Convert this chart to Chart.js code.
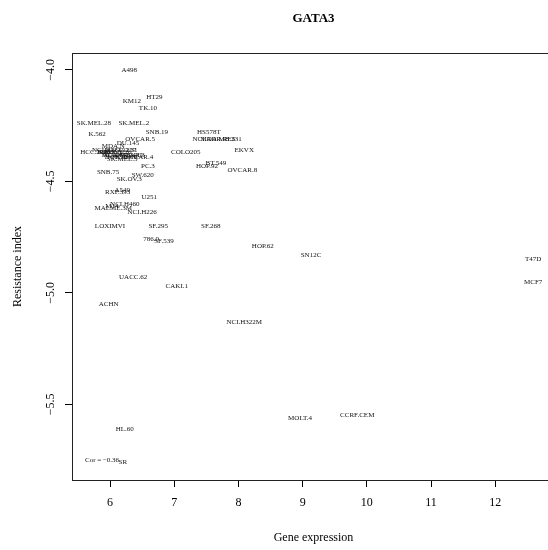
<!DOCTYPE html>
<html>
<head>
<meta charset="utf-8">
<script src="https://cdn.jsdelivr.net/npm/chart.js@4.4.1/dist/chart.umd.min.js"></script>
<style>
  html, body { margin: 0; padding: 0; background: #fff; overflow: hidden; }
  canvas { display: block; }
</style>
</head>
<body>
<canvas id="gataChart" width="560" height="550"></canvas>
<script>
// cell lines, GATA3 expression (x) and resistance index (y)
const cellLines = [
  'A498', 'HT29', 'KM12', 'TK.10', 'SK.MEL.28', 'SK.MEL.2', 'K.562', 'SNB.19',
  'HS578T', 'NCI.ADR.RES', 'MDA.MB.231', 'EKVX', 'COLO205', 'HCC.2998',
  'NCI.H23', 'IGROV1', 'RPMI.8226', 'UACC.257', 'NCI.H522', 'UO.31', 'OVCAR.3',
  'HCT.116', 'HCT.15', 'MDA.MB.435', 'MDA.N', 'DU.145', 'OVCAR.5', 'OVCAR.4',
  'SK.MEL.5', 'BT.549', 'HOP.92', 'OVCAR.8', 'PC.3', 'SNB.75', 'SW.620', 'SK.OV.3',
  'RXF.393', 'A549', 'U251', 'NCI.H460', 'M14', 'MALME.3M', 'NCI.H226', 'LOXIMVI',
  'SF.295', 'SF.268', '786.0', 'SF.539', 'HOP.62', 'SN12C', 'T47D', 'MCF7',
  'UACC.62', 'CAKI.1', 'ACHN', 'NCI.H322M', 'MOLT.4', 'CCRF.CEM', 'HL.60', 'SR'
];
const expression = [
  6.30, 6.69, 6.34, 6.59, 5.75, 6.37, 5.80, 6.73,
  7.54, 7.62, 7.73, 8.09, 7.18, 5.77,
  5.92, 6.00, 6.08, 6.16, 6.12, 6.28, 6.31,
  6.23, 6.09, 6.19, 6.05, 6.28, 6.47, 6.44,
  6.19, 7.65, 7.51, 8.06, 6.59, 5.97, 6.51, 6.30,
  6.12, 6.19, 6.61, 6.23, 6.03, 6.05, 6.50, 6.00,
  6.75, 7.57, 6.64, 6.84, 8.38, 9.13, 12.59, 12.59,
  6.36, 7.04, 5.98, 8.09, 8.96, 9.85, 6.23, 6.20
];
const resistance = [
  -4.00, -4.12, -4.14, -4.17, -4.24, -4.24, -4.29, -4.28,
  -4.28, -4.31, -4.31, -4.36, -4.37, -4.37,
  -4.36, -4.37, -4.37, -4.36, -4.38, -4.36, -4.38,
  -4.39, -4.39, -4.38, -4.34, -4.33, -4.31, -4.39,
  -4.40, -4.42, -4.43, -4.45, -4.43, -4.46, -4.47, -4.49,
  -4.55, -4.54, -4.57, -4.60, -4.61, -4.62, -4.64, -4.70,
  -4.70, -4.70, -4.76, -4.77, -4.79, -4.83, -4.85, -4.95,
  -4.93, -4.97, -5.05, -5.13, -5.56, -5.55, -5.61, -5.76
];
const xTicks = [6, 7, 8, 9, 10, 11, 12];
const yTicks = [-4.0, -4.5, -5.0, -5.5];
const corLabel = 'Cor = \u22120.36';
const corAt = { x: 5.61, y: -5.75 };

const serif = '"Liberation Serif", "Times New Roman", serif';
const fmtY = v => (v < 0 ? '\u2212' : '') + Math.abs(v).toFixed(1);

const points = expression.map((x, i) => ({ x: x, y: resistance[i] }));

// white page, R-style box, rotated y labels, titles and the point names
const rPlot = {
  id: 'rPlot',
  beforeDraw(chart) {
    const ctx = chart.ctx;
    ctx.save();
    ctx.fillStyle = '#fff';
    ctx.fillRect(0, 0, chart.width, chart.height);
    ctx.restore();
  },
  afterDatasetsDraw(chart) {
    const ctx = chart.ctx;
    const a = chart.chartArea;
    const xs = chart.scales.x, ys = chart.scales.y;
    ctx.save();

    ctx.strokeStyle = '#222';
    ctx.lineWidth = 1;
    ctx.strokeRect(Math.round(a.left) + 0.5, Math.round(a.top) + 0.5,
      Math.round(a.right - a.left), Math.round(a.bottom - a.top));

    ctx.fillStyle = '#111';
    ctx.font = '7px ' + serif;
    ctx.textAlign = 'center';
    ctx.textBaseline = 'middle';
    chart.getDatasetMeta(0).data.forEach((pt, i) => {
      ctx.fillText(cellLines[i], pt.x, pt.y);
    });

    ctx.textAlign = 'left';
    ctx.fillText(corLabel, xs.getPixelForValue(corAt.x), ys.getPixelForValue(corAt.y));

    ctx.fillStyle = '#000';
    ctx.font = '12px ' + serif;
    yTicks.forEach(v => {
      ctx.save();
      ctx.translate(51, ys.getPixelForValue(v));
      ctx.rotate(-Math.PI / 2);
      ctx.textAlign = 'center';
      ctx.fillText(fmtY(v), 0, 0);
      ctx.restore();
    });

    const midX = (a.left + a.right) / 2;
    ctx.textAlign = 'center';
    ctx.fillText('Gene expression', midX, 538);

    ctx.save();
    ctx.translate(18, (a.top + a.bottom) / 2);
    ctx.rotate(-Math.PI / 2);
    ctx.fillText('Resistance index', 0, 0);
    ctx.restore();

    ctx.font = 'bold 13px ' + serif;
    ctx.fillText('GATA3', midX, 19);
    ctx.restore();
  }
};

new Chart(document.getElementById('gataChart'), {
  type: 'scatter',
  data: {
    datasets: [{
      data: points,
      pointRadius: 0,
      pointHoverRadius: 0,
      showLine: false
    }]
  },
  options: {
    responsive: false,
    animation: false,
    events: [],
    layout: { padding: { top: 53, right: 5, bottom: 0, left: 0 } },
    plugins: {
      legend: { display: false },
      tooltip: { enabled: false },
      title: { display: false }
    },
    scales: {
      x: {
        type: 'linear',
        min: 5.408,
        max: 12.93,
        afterBuildTicks: s => { s.ticks = xTicks.map(v => ({ value: v })); },
        afterFit: s => { s.height = 70; },
        border: { display: false },
        grid: { drawOnChartArea: false, drawTicks: true, tickLength: 7, color: '#000' },
        ticks: {
          color: '#000',
          font: { family: serif, size: 12 },
          padding: 9,
          maxRotation: 0,
          callback: v => String(v)
        }
      },
      y: {
        type: 'linear',
        min: -5.839,
        max: -3.924,
        afterBuildTicks: s => { s.ticks = yTicks.map(v => ({ value: v })); },
        afterFit: s => { s.width = 72; },
        border: { display: false },
        grid: { drawOnChartArea: false, drawTicks: true, tickLength: 7, color: '#000' },
        ticks: { display: false }
      }
    }
  },
  plugins: [rPlot]
});
</script>
</body>
</html>
